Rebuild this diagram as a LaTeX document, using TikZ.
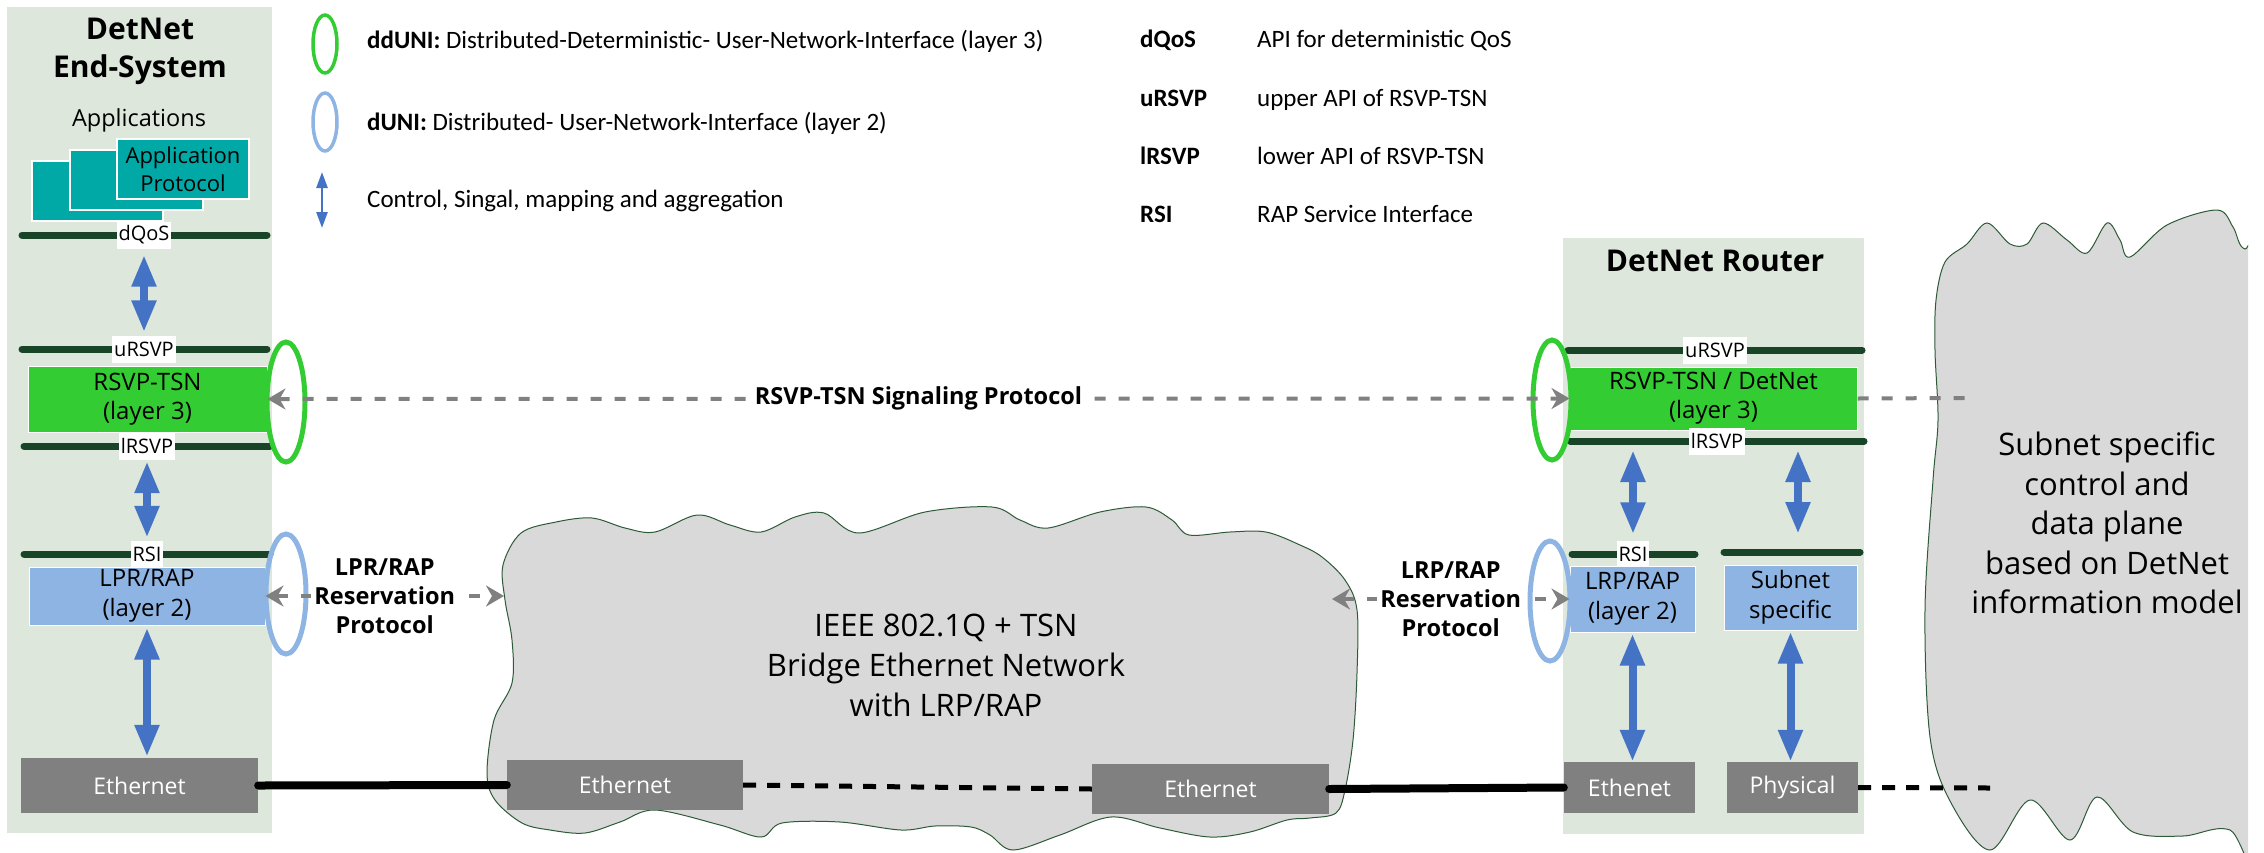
\documentclass[tikz,border=0pt]{standalone}
\usepackage{fontspec}
\setmainfont{Open Sans}
\newfontfamily\legfont{Carlito}
\usetikzlibrary{arrows.meta,shapes.geometric}
\newcommand\setfs[2]{\fontsize{#1}{#2}\selectfont}
\definecolor{panelc}{RGB}{221,231,219}
\definecolor{apic}{RGB}{24,68,40}
\definecolor{brightg}{RGB}{51,204,51}
\definecolor{lblue}{RGB}{142,180,227}
\definecolor{arrowb}{RGB}{68,114,196}
\definecolor{tealc}{RGB}{0,168,166}
\definecolor{gboxc}{RGB}{128,128,128}
\definecolor{cloudf}{RGB}{217,217,217}
\definecolor{cloudd}{RGB}{45,90,55}
\definecolor{dashg}{RGB}{128,128,128}
\tikzset{
  panel/.style={fill=panelc, inner sep=0pt},
  apiline/.style={draw=apic, line width=7pt, line cap=round},
  apilbl/.style={fill=white, inner xsep=2pt, inner ysep=0pt, minimum height=27pt, font=\setfs{20}{24}},
  fatarrow/.style={draw=arrowb, line width=8pt, {Triangle[width=23pt,length=32pt]}-{Triangle[width=23pt,length=32pt]}},
  l3box/.style={fill=brightg, draw=white, line width=1pt, align=center, inner sep=0pt, font=\setfs{24}{29}},
  l2box/.style={fill=lblue, draw=white, line width=1pt, align=center, inner sep=0pt, font=\setfs{24}{30}},
  appbox/.style={fill=tealc, draw=white, line width=1.5pt, align=center, inner sep=0pt, font=\setfs{22}{28}},
  ethbox/.style={fill=gboxc, text=white, inner sep=0pt, font=\setfs{23}{28}},
  titletxt/.style={font=\bfseries\setfs{30}{38}, align=center},
  ddring/.style={ellipse, draw=brightg, line width=5pt, inner sep=0pt, minimum width=38pt, minimum height=120pt},
  dring/.style={ellipse, draw=lblue, line width=5pt, inner sep=0pt, minimum width=40pt, minimum height=120pt},
  sigarrow/.style={draw=dashg, line width=4pt, dash pattern=on 11pt off 13pt, {Stealth[length=18pt,width=21pt,inset=6pt]}-{Stealth[length=18pt,width=21pt,inset=6pt]}},
  sigline/.style={draw=dashg, line width=4pt, dash pattern=on 11pt off 13pt},
  protlbl/.style={fill=white, font=\bfseries\setfs{23.5}{29}, align=center, inner xsep=3pt, inner ysep=0pt},
  siglbl/.style={fill=white, font=\bfseries\setfs{23.5}{28}, inner xsep=9pt, inner ysep=2pt},
  wire/.style={draw=black, line width=8pt, line cap=round},
  dwire/.style={draw=black, line width=5pt, dash pattern=on 13pt off 11pt},
  cloudshape/.style={fill=cloudf, draw=cloudd, line width=1pt},
  cloudtxt/.style={align=center, font=\setfs{31}{40}},
  legtxt/.style={anchor=base west, font=\legfont\setfs{25}{29}, inner sep=0pt},
  legbold/.style={anchor=base west, font=\legfont\bfseries\setfs{25}{29}, inner sep=0pt},
  legring/.style={ellipse, line width=3.5pt, inner sep=0pt, minimum width=24pt, minimum height=58pt},
}
\begin{document}
\begin{tikzpicture}[x=1pt,y=-1pt]
\useasboundingbox (0,0) rectangle (2264,852);
% ---------- background panels ----------
\node[panel, minimum width=265pt, minimum height=826pt] (esys) at (139.5,420) {};
\node[panel, minimum width=301pt, minimum height=596pt] (router) at (1713.5,536) {};
% ---------- clouds ----------
\draw[cloudshape] plot[smooth cycle, tension=0.55] coordinates {
 (521,533) (556,522) (592,518) (625,528) (655,532) (697,515) (730,525) (761,532)
 (795,517) (824,513) (859,533) (925,512) (992,507) (1020,520) (1048,528) (1100,512)
 (1146,507) (1172,520) (1189,535) (1230,532) (1266,532) (1300,545) (1322,557) (1345,580)
 (1357,610) (1357,673) (1353,740) (1345,790) (1336,813) (1310,818) (1287,820) (1250,832)
 (1210,837) (1160,828) (1111,817) (1060,835) (1013,850) (990,835) (971,827) (935,826)
 (901,830) (840,822) (782,823) (761,837) (720,825) (655,810) (620,822) (585,833)
 (550,830) (522,823) (495,800) (487,773) (494,720) (512,683) (512,640) (505,600) (503,565)};
\begin{scope}
\clip (0,0) rectangle (2248,852);
\draw[cloudshape] plot[smooth cycle, tension=0.55] coordinates {
 (1935,351) (1936,300) (1945,262) (1967,244) (1987,223) (2010,244) (2027,244) (2043,223)
 (2067,240) (2087,253) (2107,223) (2120,240) (2130,257) (2167,225) (2217,210) (2233,227)
 (2245,249) (2280,240) (2280,870) (2230,830) (2183,836) (2133,832) (2097,797) (2070,840)
 (2030,800) (1990,850) (1950,801) (1930,737) (1925,609) (1933,480) (1938,420)};
\end{scope}
\node[cloudtxt] (ctext) at (946,665) {IEEE 802.1Q + TSN\\Bridge Ethernet Network\\with LRP/RAP};
\node[cloudtxt, font=\setfs{31}{39.5}] (stext) at (2107,523) {Subnet specific\\control and\\data plane\\based on DetNet\\information model};
% ---------- legend ----------
\node[legring, draw=brightg] (lgdd) at (325,44) {};
\node[legring, draw=lblue] (lgd) at (325,122) {};
\coordinate (lgA) at (322,172);
\coordinate (lgB) at (322,228);
\draw[draw=arrowb, line width=2.5pt, {Triangle[width=11pt,length=16pt]}-{Triangle[width=11pt,length=16pt]}] (lgA) -- (lgB);
\node[legtxt] (lg1) at (367,48) {\textbf{ddUNI:} Distributed-Deterministic- User-Network-Interface (layer 3)};
\node[legtxt] (lg2) at (367,130) {\textbf{dUNI:} Distributed- User-Network-Interface (layer 2)};
\node[legtxt] (lg3) at (367,207) {Control, Singal, mapping and aggregation};
\node[legbold] (k1) at (1140,47) {dQoS};
\node[legtxt] (v1) at (1257,47) {API for deterministic QoS};
\node[legbold] (k2) at (1140,106) {uRSVP};
\node[legtxt] (v2) at (1257,106) {upper API of RSVP-TSN};
\node[legbold] (k3) at (1140,164) {lRSVP};
\node[legtxt] (v3) at (1257,164) {lower API of RSVP-TSN};
\node[legbold] (k4) at (1140,222) {RSI};
\node[legtxt] (v4) at (1257,222) {RAP Service Interface};
% ---------- DetNet End-System ----------
\node[titletxt] (estitle) at (140,51) {DetNet\\End-System};
\node[font=\setfs{23.5}{28}] (apps) at (139,120) {Applications};
\node[appbox, minimum width=131pt, minimum height=60pt] (app1) at (97.5,191) {};
\node[appbox, minimum width=133pt, minimum height=60pt] (app2) at (136.5,180) {};
\node[appbox, minimum width=132pt, minimum height=60pt] (app3) at (183,169) {Application\\Protocol};
\coordinate (dqA) at (22,235); \coordinate (dqB) at (267,235);
\draw[apiline] (dqA) -- (dqB);
\node[apilbl] (dqos) at (144,235) {dQoS};
\coordinate (urLA) at (22,349); \coordinate (urLB) at (267,349);
\draw[apiline] (urLA) -- (urLB);
\node[apilbl] (ursvpL) at (144,349) {uRSVP};
\node[l3box, minimum width=239pt, minimum height=66pt] (rsvpL) at (147.5,399) {RSVP-TSN\\(layer 3)};
\coordinate (lrLA) at (24,446); \coordinate (lrLB) at (270,446);
\draw[apiline] (lrLA) -- (lrLB);
\node[apilbl] (lrsvpL) at (147,446) {lRSVP};
\coordinate (rsLA) at (24,554); \coordinate (rsLB) at (270,554);
\draw[apiline] (rsLA) -- (rsLB);
\node[apilbl] (rsiL) at (147,554) {RSI};
\node[l2box, minimum width=236pt, minimum height=58pt] (lprL) at (147,596) {LPR/RAP\\(layer 2)};
\node[ethbox, minimum width=237pt, minimum height=55pt] (ethL) at (139.5,785.5) {Ethernet};
\draw[fatarrow, shorten <=6pt, shorten >=3pt] (dqos.south) -- (ursvpL.north);
\draw[fatarrow, shorten <=1.5pt, shorten >=2.5pt] (lrsvpL.south) -- (rsiL.north);
\draw[fatarrow, shorten <=2pt, shorten >=1pt] (lprL.south) -- (lprL.south |- ethL.north);
\node[ddring] (ddL) at (286,402) {};
\node[dring] (dL) at (286,594) {};
% ---------- DetNet Router ----------
\node[titletxt] (rtitle) at (1715,261) {DetNet Router};
\coordinate (urRA) at (1568,350); \coordinate (urRB) at (1862,350);
\draw[apiline] (urRA) -- (urRB);
\node[apilbl] (ursvpR) at (1715,350) {uRSVP};
\node[l3box, minimum width=287pt, minimum height=63pt] (rsvpR) at (1713.5,398.5) {RSVP-TSN / DetNet\\(layer 3)};
\coordinate (lrRA) at (1570,441); \coordinate (lrRB) at (1864,441);
\draw[apiline] (lrRA) -- (lrRB);
\node[apilbl] (lrsvpR) at (1717,441) {lRSVP};
\coordinate (rsRA) at (1572,554); \coordinate (rsRB) at (1695,554);
\draw[apiline] (rsRA) -- (rsRB);
\node[apilbl] (rsiR) at (1633,554) {RSI};
\coordinate (ssA) at (1724,552); \coordinate (ssB) at (1860,552);
\draw[apiline] (ssA) -- (ssB);
\node[l2box, minimum width=125pt, minimum height=66pt] (lrpR) at (1632.5,599) {LRP/RAP\\(layer 2)};
\node[l2box, minimum width=133pt, minimum height=65pt] (subnet) at (1790.5,597.5) {Subnet\\specific};
\node[ethbox, minimum width=131pt, minimum height=51pt] (ethR) at (1629.5,787.5) {Ethenet};
\node[ethbox, minimum width=131pt, minimum height=51pt] (phys) at (1792.5,787.5) {Physical};
\coordinate (a4s) at (1633,450);
\draw[fatarrow, shorten >=6pt] (a4s) -- (rsiR.north);
\coordinate (a5s) at (1798,450); \coordinate (a5e) at (1798,534);
\draw[fatarrow] (a5s) -- (a5e);
\draw[fatarrow, shorten <=1pt] (lrpR.south) -- (lrpR.south |- ethR.north);
\draw[fatarrow, shorten <=1pt] (subnet.south) -- (subnet.south |- phys.north);
\node[ddring] (ddR) at (1552,400) {};
\node[dring] (dR) at (1550,601) {};
% ---------- cloud ethernet ports and wires ----------
\node[ethbox, minimum width=236pt, minimum height=50pt] (ethC1) at (625,785) {Ethernet};
\node[ethbox, minimum width=237pt, minimum height=50pt] (ethC2) at (1210.5,789) {Ethernet};
\draw[wire] (ethL.east) -- (ethC1.west);
\draw[dwire] (ethC1.east) -- (ethC2.west);
\draw[wire] (ethC2.east) -- (ethR.west);
\coordinate (physEnd) at (1990,788);
\draw[dwire] (phys.east) -- (physEnd);
% ---------- signalling ----------
\draw[sigarrow] (rsvpL.east) -- (rsvpR.west) node[siglbl, midway] (sigl) {RSVP-TSN Signaling Protocol};
\coordinate (sigEnd) at (1967,398);
\draw[sigline] (rsvpR.east) -- (sigEnd);
\coordinate (cloudW) at (504,596);
\draw[sigarrow] (lprL.east) -- (cloudW) node[protlbl, midway] (lprlbl) {LPR/RAP\\Reservation\\Protocol};
\coordinate (cloudE) at (1332,599);
\draw[sigarrow] (cloudE) -- (lrpR.west) node[protlbl, midway] (lrplbl) {LRP/RAP\\Reservation\\Protocol};
\end{tikzpicture}
\end{document}
